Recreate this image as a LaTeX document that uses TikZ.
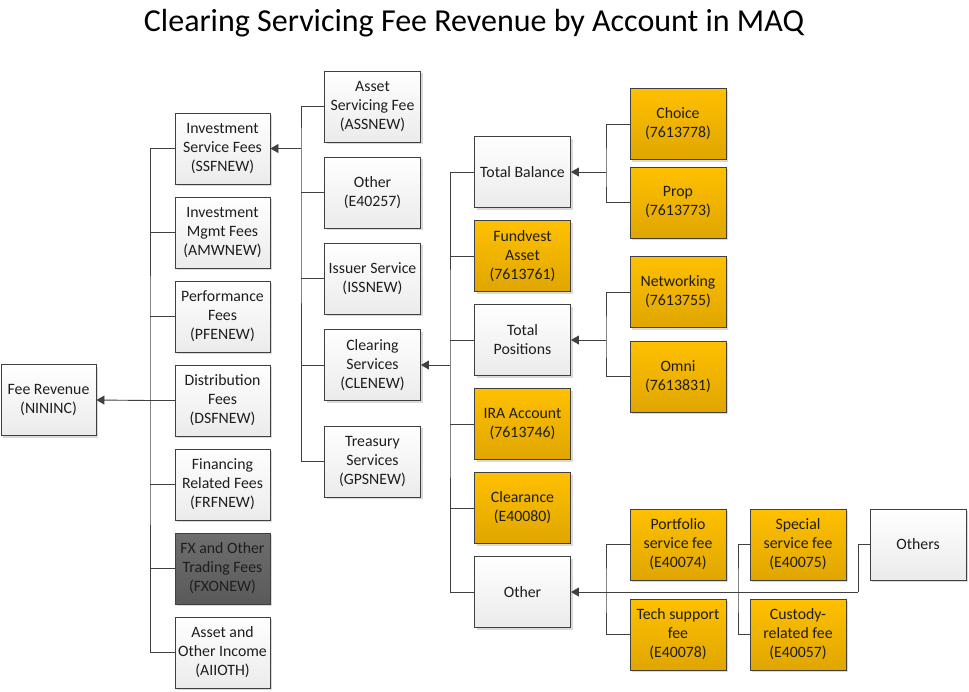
\documentclass[tikz,border=0pt]{standalone}
\usepackage{fontspec}
\setmainfont{Carlito}
\usetikzlibrary{arrows.meta,shadows}
\definecolor{bordc}{HTML}{404040}
\definecolor{linec}{HTML}{404040}
\definecolor{txtc}{HTML}{1E1E1E}
\definecolor{orT}{HTML}{FFC000}
\definecolor{orB}{HTML}{E0A600}
\definecolor{grT}{HTML}{FFFFFF}
\definecolor{grB}{HTML}{EBEBEB}
\definecolor{dkT}{HTML}{6E6E6E}
\definecolor{dkB}{HTML}{5A5A5A}
\tikzset{
  x=1pt, y=-1pt,
  box/.style={draw=bordc, line width=0.9pt, minimum width=96pt, minimum height=71pt,
    inner sep=1pt, align=center, text=txtc,
    font=\fontsize{15.8}{19}\selectfont,
    drop shadow={shadow xshift=2pt, shadow yshift=-2pt, opacity=0.25, fill=black!60},
    top color=grT, bottom color=grB},
  obox/.style={box, top color=orT, bottom color=orB},
  dbox/.style={box, top color=dkT, bottom color=dkB},
  conn/.style={draw=linec, line width=0.9pt},
  arr/.style={conn, -{Triangle[length=8pt,width=9pt]}},
}
\begin{document}
\begin{tikzpicture}
\useasboundingbox (0,0) rectangle (969,691);
\node[font=\fontsize{32}{38}\selectfont, text=black] (title) at (474,23) {Clearing Servicing Fee Revenue by Account in MAQ};

% column A
\node[box, minimum width=95pt] (fee) at (48.5,400) {Fee Revenue\\(NININC)};
% column B
\node[box, minimum width=95pt] (ssf) at (222.5,148.5) {Investment\\Service Fees\\(SSFNEW)};
\node[box, minimum width=95pt] (amw) at (222.5,232.5) {Investment\\Mgmt Fees\\(AMWNEW)};
\node[box, minimum width=95pt] (pfe) at (222.5,316.5) {Performance\\Fees\\(PFENEW)};
\node[box, minimum width=95pt] (dsf) at (222.5,400.5) {Distribution\\Fees\\(DSFNEW)};
\node[box, minimum width=95pt] (frf) at (222.5,484.5) {Financing\\Related Fees\\(FRFNEW)};
\node[dbox, minimum width=95pt] (fxo) at (222.5,568.5) {FX and Other\\Trading Fees\\(FXONEW)};
\node[box, minimum width=95pt] (aio) at (222.5,652.5) {Asset and\\Other Income\\(AIIOTH)};
% column C
\node[box] (ass) at (372.5,106.5) {Asset\\Servicing Fee\\(ASSNEW)};
\node[box] (oth1) at (372.5,192.5) {Other\\(E40257)};
\node[box] (iss) at (372.5,278.5) {Issuer Service\\(ISSNEW)};
\node[box] (cle) at (372.5,365) {Clearing\\Services\\(CLENEW)};
\node[box] (gps) at (372.5,461.5) {Treasury\\Services\\(GPSNEW)};
% column D
\node[box] (tb) at (522.5,172) {Total Balance};
\node[obox] (fva) at (522.5,256) {Fundvest\\Asset\\(7613761)};
\node[box] (tp) at (522.5,340) {Total\\Positions};
\node[obox] (ira) at (522.5,424) {IRA Account\\(7613746)};
\node[obox] (clr) at (522.5,508) {Clearance\\(E40080)};
\node[box] (oth2) at (522.5,592) {Other};
% column E
\node[obox] (cho) at (678,124) {Choice\\(7613778)};
\node[obox] (pro) at (678,202.5) {Prop\\(7613773)};
\node[obox] (net) at (678,292) {Networking\\(7613755)};
\node[obox] (omn) at (678,376.5) {Omni\\(7613831)};
\node[obox] (pfs) at (678,544.5) {Portfolio\\service fee\\(E40074)};
\node[obox] (tsf) at (678,634.5) {Tech support\\fee\\(E40078)};
% column F
\node[obox] (ssv) at (798,544.5) {Special\\service fee\\(E40075)};
\node[obox] (cus) at (798,634.5) {Custody-\\related fee\\(E40057)};
% others
\node[box] (others) at (918,544.5) {Others};

% bus coordinates
\coordinate (bA) at (150,400.5);
\coordinate (bB) at (301,148.5);
\coordinate (bD) at (450,365);
\coordinate (bT) at (606,172);
\coordinate (bP) at (606,340);
\coordinate (bO) at (606,592);
\coordinate (bS) at (738,592);
\coordinate (bX) at (858,592);

% Fee revenue tree
\draw[conn] (ssf.west) -| (bA) |- (aio.west);
\foreach \n in {amw,pfe,dsf,frf,fxo} \draw[conn] (\n.west) -- (bA |- \n.west);
\draw[arr] (bA) -- (fee.east);
% Investment service fees tree
\draw[conn] (ass.west) -| (bB) |- (gps.west);
\foreach \n in {oth1,iss,cle} \draw[conn] (\n.west) -- (bB |- \n.west);
\draw[arr] (bB) -- (ssf.east);
% Clearing services tree
\draw[conn] (tb.west) -| (bD) |- (oth2.west);
\foreach \n in {fva,tp,ira,clr} \draw[conn] (\n.west) -- (bD |- \n.west);
\draw[arr] (bD) -- (cle.east);
% Total balance
\draw[conn] (cho.west) -| (bT) |- (pro.west);
\draw[arr] (bT) -- (tb.east);
% Total positions
\draw[conn] (net.west) -| (bP) |- (omn.west);
\draw[arr] (bP) -- (tp.east);
% Other
\draw[conn] (pfs.west) -| (bO) |- (tsf.west);
\draw[conn] (ssv.west) -| (bS) |- (cus.west);
\draw[conn] (others.west) -| (bX);
\draw[arr] (bX) -- (oth2.east);
\end{tikzpicture}
\end{document}
